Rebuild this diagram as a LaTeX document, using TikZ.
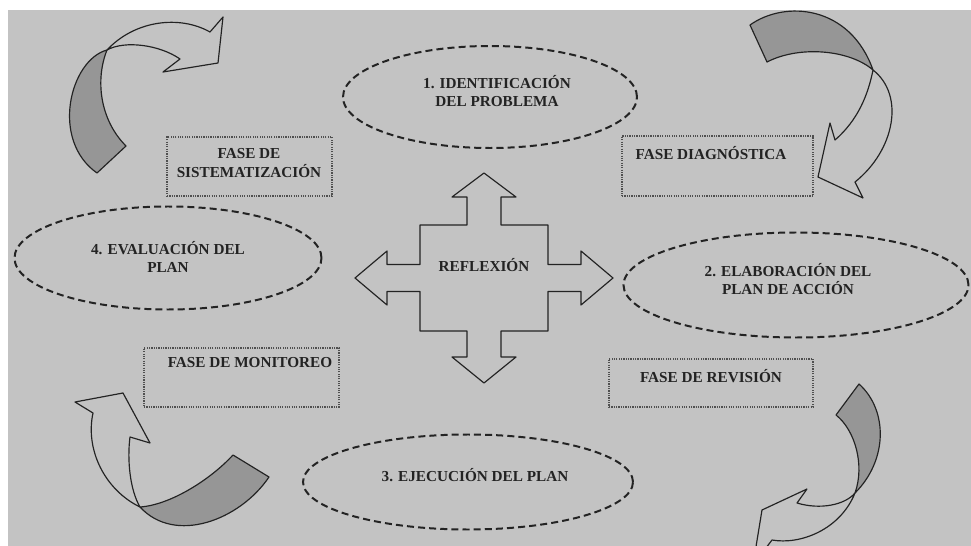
\documentclass[tikz,border=0pt]{standalone}
\usepackage{fontspec}
\setmainfont{Liberation Serif}
\usetikzlibrary{shapes.geometric}

\definecolor{fondo}{RGB}{195,195,195}
\definecolor{sombra}{RGB}{150,150,150}
\definecolor{trazo}{RGB}{35,35,35}

\begin{document}
\begin{tikzpicture}[x=0.3mm,y=-0.3mm,
	etapa/.style={ellipse,draw=trazo,line width=1.7pt,dash pattern=on 6pt off 3.5pt,inner sep=0pt},
	fase/.style={draw=trazo!80,line width=1.1pt,dash pattern=on 1pt off 1pt,inner sep=0pt},
	texto/.style={font=\bfseries\fontsize{13}{15.5}\selectfont,align=center,inner sep=0pt,text=trazo},
	cinta/.style={draw=trazo,line width=1pt,line join=round}]
	
	\useasboundingbox (0,0) rectangle (971,546);
	\fill[white] (0,0) rectangle (971,546);
	\fill[fondo] (8,10) rectangle (971,546);
	
	% etapas
	\node[etapa,minimum width=88.2mm,minimum height=30.6mm] (e1) at (490,97) {};
	\node[texto] (t1) at (497,91) {1. IDENTIFICACIÓN\\DEL PROBLEMA};
	\node[etapa,minimum width=103.5mm,minimum height=31.5mm] (e2) at (796,285) {};
	\node[texto] (t2) at (788,279) {2. ELABORACIÓN DEL\\PLAN DE ACCIÓN};
	\node[etapa,minimum width=99mm,minimum height=28.5mm] (e3) at (468,482) {};
	\node[texto] (t3) at (475,475) {3. EJECUCIÓN DEL PLAN};
	\node[etapa,minimum width=92.1mm,minimum height=30.9mm] (e4) at (168,258) {};
	\node[texto] (t4) at (168,257) {4. EVALUACIÓN DEL\\PLAN};
	
	% fases
	\node[fase,minimum width=49.5mm,minimum height=17.7mm] (fsis) at (249.5,166.5) {};
	\node[texto] (tsis) at (249,163) {FASE DE\\SISTEMATIZACIÓN};
	\node[fase,minimum width=57.3mm,minimum height=18mm] (fdiag) at (717.5,166) {};
	\node[texto] (tdiag) at (711,153) {FASE DIAGNÓSTICA};
	\node[fase,minimum width=58.5mm,minimum height=17.7mm] (fmon) at (241.5,377.5) {};
	\node[texto] (tmon) at (250,363) {FASE DE MONITOREO};
	\node[fase,minimum width=61.2mm,minimum height=14.4mm] (frev) at (711,383) {};
	\node[texto] (trev) at (711,376) {FASE DE REVISIÓN};
	
	% cruz central
	\draw[cinta] (484,173) -- (516,197) -- (501,197) -- (501,225) -- (548,225) -- (548,264.5) -- (581,264.5) -- (581,251) -- (613,278) -- (581,305) -- (581,291.5) -- (548,291.5) -- (548,331) -- (501,331) -- (501,357) -- (516,357) -- (484,383) -- (452,357) -- (467,357) -- (467,331) -- (420,331) -- (420,291.5) -- (387,291.5) -- (387,305) -- (355,278) -- (387,251) -- (387,264.5) -- (420,264.5) -- (420,225) -- (467,225) -- (467,197) -- (452,197) -- cycle;
	\node[texto] (reflexion) at (484,265) {REFLEXIÓN};
	
	% flechas curvas
	\draw[cinta,fill=sombra] (107,50) .. controls (70,60) and (50,140) .. (97,173) -- (126,146) .. controls (100,120) and (95,80) .. (107,50);
	\draw[cinta] (107,50) .. controls (135,20) and (180,15) .. (210,32) -- (223,17) -- (218,63) -- (163,72) -- (180,59) .. controls (160,45) and (125,40) .. (107,50);
	
	\draw[cinta,fill=sombra] (750,25) .. controls (785,0) and (850,5) .. (873,70) .. controls (850,50) and (800,45) .. (767,62) -- cycle;
	\draw[cinta] (873,70) .. controls (905,95) and (895,150) .. (855,182) -- (863,198) -- (818,177) -- (830,123) -- (835,140) .. controls (858,120) and (868,95) .. (873,70);
	
	\draw[cinta,fill=sombra] (233,455) -- (269,477) .. controls (240,520) and (175,545) .. (140,507) .. controls (170,505) and (210,480) .. (233,455);
	\draw[cinta] (140,507) .. controls (105,490) and (85,450) .. (93,413) -- (75,402) -- (123,393) -- (150,443) -- (130,437) .. controls (127,460) and (130,490) .. (140,507);
	
	\begin{scope}
		\clip (0,0) rectangle (971,546);
		\draw[cinta,fill=sombra] (836,415) -- (859,384) .. controls (888,410) and (888,460) .. (855,493) .. controls (865,465) and (855,430) .. (836,415);
		\draw[cinta] (855,493) .. controls (840,530) and (800,545) .. (772,540) -- (753,565) -- (762,510) -- (807,489) -- (797,503) .. controls (820,510) and (845,505) .. (855,493);
	\end{scope}
\end{tikzpicture}
\end{document}
